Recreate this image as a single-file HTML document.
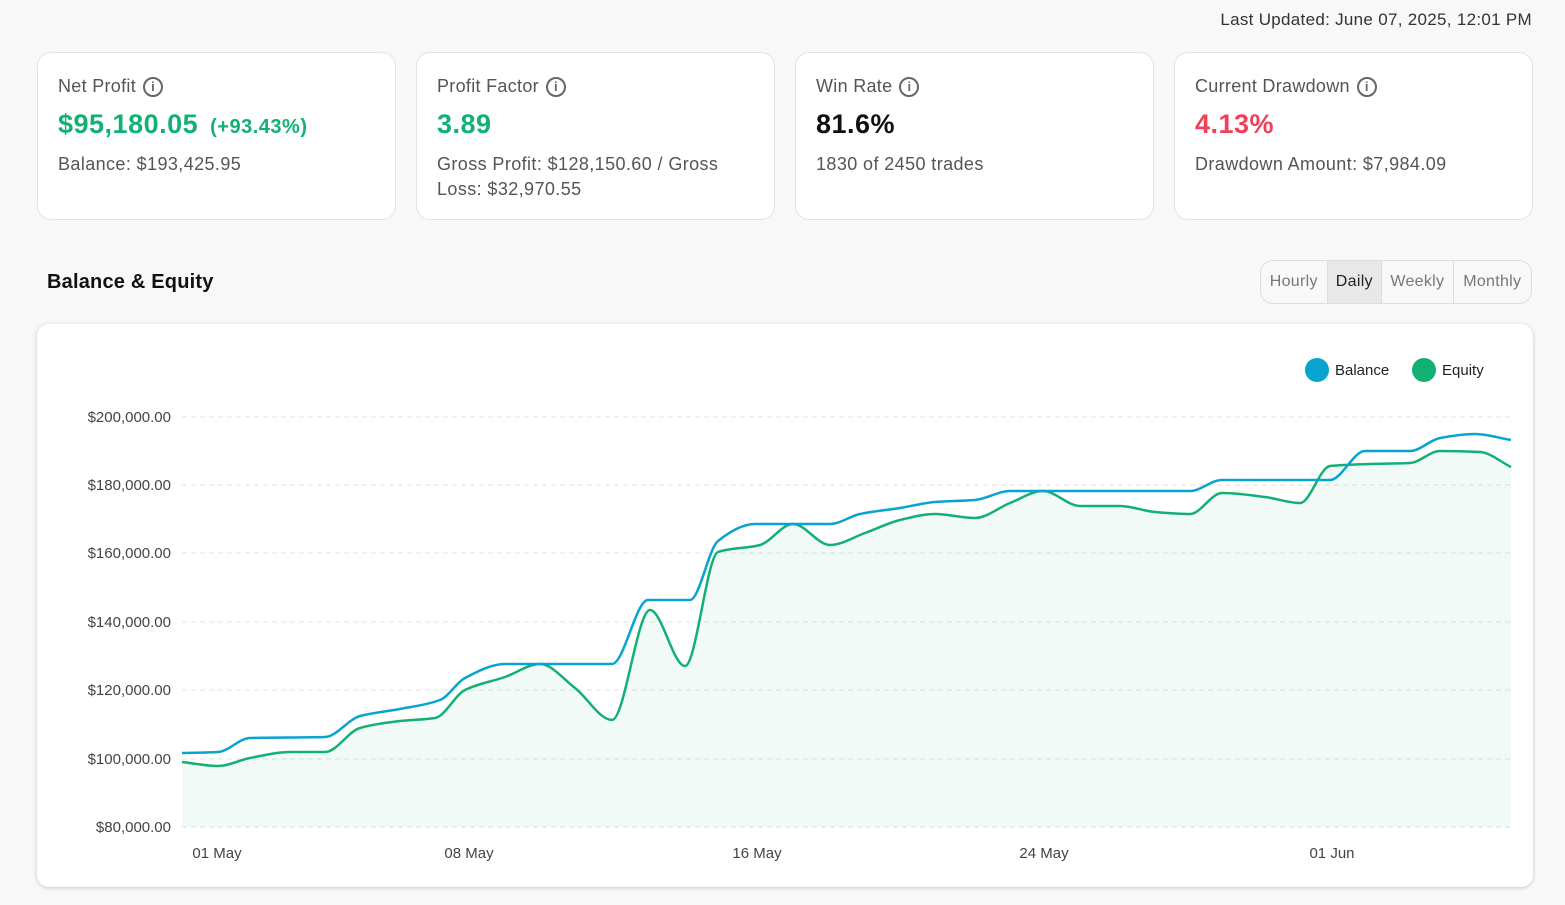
<!DOCTYPE html>
<html><head><meta charset="utf-8"><style>
*{box-sizing:border-box;margin:0;padding:0}
body{width:1565px;height:905px;background:#f8f8f8;font-family:"Liberation Sans",sans-serif;color:#222;position:relative;overflow:hidden}
.upd{position:absolute;right:33px;top:10px;font-size:17px;color:#333;letter-spacing:0.3px}
.card{position:absolute;top:52px;width:359px;height:168px;background:#fff;border:1px solid #e3e3e3;border-radius:14px;padding:23px 20px}
.t{font-size:18px;color:#555;display:flex;align-items:center;letter-spacing:0.3px}
.i{display:inline-block;width:20px;height:20px;border:2px solid #666;border-radius:50%;margin-left:7px;font-size:13px;text-align:center;line-height:16px;color:#666;font-weight:bold}
.v{font-size:27px;font-weight:bold;margin-top:12px;letter-spacing:0.5px}
.s{font-size:18px;color:#555;margin-top:12px;line-height:25px;letter-spacing:0.4px;padding-right:22px}
.g{color:#12b173}.r{color:#f0405a}
.h{position:absolute;left:47px;top:271px;font-size:20px;font-weight:bold;color:#111;letter-spacing:0.2px}
.tabs{position:absolute;left:1260px;top:260px;width:272px;height:44px;border:1px solid #ddd;border-radius:13px;display:flex;overflow:hidden;font-size:16px;color:#777;letter-spacing:0.3px}
.tabs div{display:flex;align-items:center;justify-content:center;border-right:1px solid #ddd}
.chart{position:absolute;left:37px;top:324px;width:1496px;height:563px;background:#fff;border-radius:12px;box-shadow:0 1px 4px rgba(0,0,0,.2)}
svg{position:absolute;left:0;top:0}
</style></head><body>
<div class="upd">Last Updated: June 07, 2025, 12:01 PM</div>
<div class="card" style="left:37px"><div class="t">Net Profit<span class="i">i</span></div><div class="v g">$95,180.05 <span style="font-size:20px;margin-left:4px">(+93.43%)</span></div><div class="s">Balance: $193,425.95</div></div>
<div class="card" style="left:416px"><div class="t">Profit Factor<span class="i">i</span></div><div class="v g">3.89</div><div class="s">Gross Profit: $128,150.60 / Gross Loss: $32,970.55</div></div>
<div class="card" style="left:795px"><div class="t">Win Rate<span class="i">i</span></div><div class="v" style="color:#111">81.6%</div><div class="s">1830 of 2450 trades</div></div>
<div class="card" style="left:1174px"><div class="t">Current Drawdown<span class="i">i</span></div><div class="v r">4.13%</div><div class="s">Drawdown Amount: $7,984.09</div></div>
<div class="h">Balance &amp; Equity</div>
<div class="tabs"><div style="width:67px">Hourly</div><div style="width:55px;background:#e8e8e8;color:#222">Daily</div><div style="width:72px">Weekly</div><div style="width:78px;border:none">Monthly</div></div>
<div class="chart"></div>
<svg width="1565" height="905" font-family="Liberation Sans, sans-serif">
<g stroke="#e2e2e2" stroke-dasharray="5,4">
<line x1="182" x2="1511" y1="417" y2="417"/><line x1="182" x2="1511" y1="485" y2="485"/><line x1="182" x2="1511" y1="553" y2="553"/><line x1="182" x2="1511" y1="622" y2="622"/><line x1="182" x2="1511" y1="690" y2="690"/><line x1="182" x2="1511" y1="759" y2="759"/><line x1="182" x2="1511" y1="827" y2="827"/></g>
<g font-size="15" fill="#444" text-anchor="end">
<text x="171" y="422">$200,000.00</text><text x="171" y="490">$180,000.00</text><text x="171" y="558">$160,000.00</text><text x="171" y="627">$140,000.00</text><text x="171" y="695">$120,000.00</text><text x="171" y="764">$100,000.00</text><text x="171" y="832">$80,000.00</text></g>
<g font-size="15" fill="#444" text-anchor="middle">
<text x="217" y="858">01 May</text><text x="469" y="858">08 May</text><text x="757" y="858">16 May</text><text x="1044" y="858">24 May</text><text x="1332" y="858">01 Jun</text></g>
<circle cx="1317" cy="370" r="12" fill="#07a4d0"/><text x="1335" y="375" font-size="15" fill="#222">Balance</text>
<circle cx="1424" cy="370" r="12" fill="#12b173"/><text x="1442" y="375" font-size="15" fill="#222">Equity</text>
<path id="fill" fill="#12b173" fill-opacity="0.06"/>
<path id="eq" fill="none" stroke="#12b173" stroke-width="2.5"/>
<path id="bal" fill="none" stroke="#07a4d0" stroke-width="2.5"/>
</svg>
<script>
function sm(p){const n=p.length,dx=[],s=[],m=[];
for(let i=0;i<n-1;i++){dx[i]=p[i+1][0]-p[i][0];s[i]=(p[i+1][1]-p[i][1])/dx[i];}
m[0]=s[0];m[n-1]=s[n-2];
for(let i=1;i<n-1;i++){if(s[i-1]*s[i]<=0)m[i]=0;else m[i]=3*(dx[i-1]+dx[i])/((2*dx[i]+dx[i-1])/s[i-1]+(dx[i]+2*dx[i-1])/s[i]);}
let d="M"+p[0][0]+","+p[0][1];
for(let i=0;i<n-1;i++){const h=dx[i]/3;d+=" C"+(p[i][0]+h)+","+(p[i][1]+m[i]*h)+" "+(p[i+1][0]-h)+","+(p[i+1][1]-m[i+1]*h)+" "+p[i+1][0]+","+p[i+1][1];}
return d;}
const B=[[182,753],[218,752],[250,738],[325,737],[360,716],[400,709],[440,700],[465,678],[505,664],[612,664],[648,600],[690,600],[718,541],[755,524],[830,524],[860,514],[900,508],[935,502],[975,500],[1010,491],[1190,491],[1222,480],[1330,480],[1365,451],[1410,451],[1440,438],[1475,434],[1511,440]];
const E=[[182,762],[218,766],[250,758],[290,752],[325,752],[360,728],[400,721],[435,718],[465,690],[505,677],[540,664],[575,688],[612,720],[650,610],[685,666],[718,552],[760,545],[793,524],[830,545],[865,533],[900,520],[935,514],[975,518],[1010,503],[1043,491],[1080,506],[1120,506],[1155,512],[1190,514],[1222,493],[1265,497],[1300,503],[1330,466],[1370,464],[1410,463],[1440,451],[1480,452],[1511,467]];
document.getElementById("bal").setAttribute("d",sm(B));
const e=sm(E);document.getElementById("eq").setAttribute("d",e);
document.getElementById("fill").setAttribute("d",e+" L1511,827 L182,827 Z");
</script>
</body></html>
